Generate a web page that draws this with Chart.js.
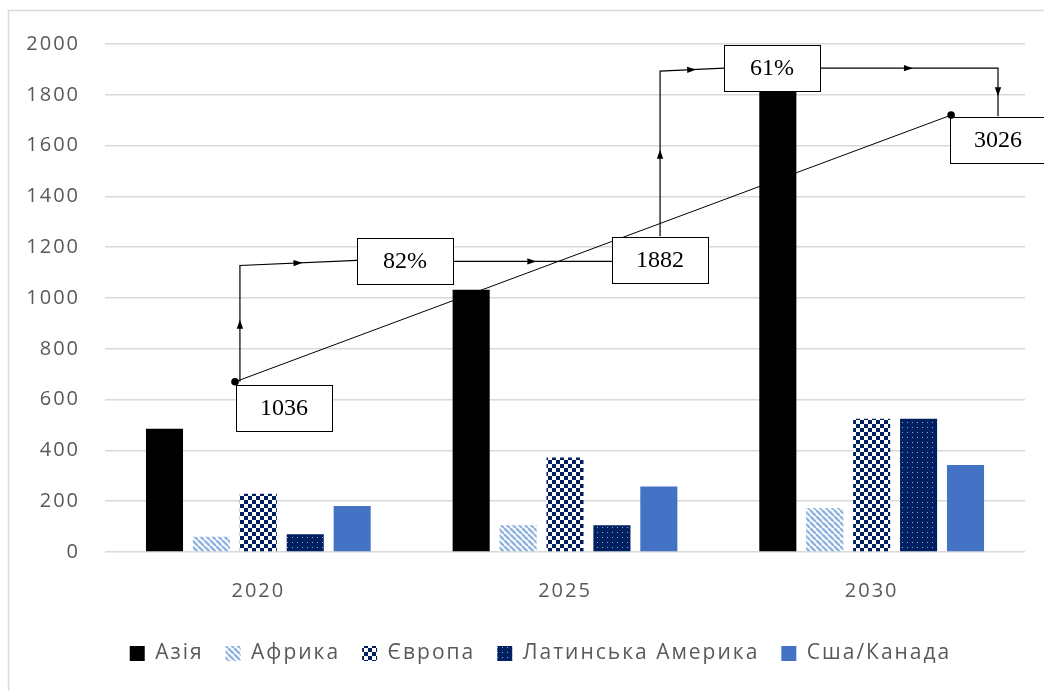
<!DOCTYPE html>
<html>
<head>
<meta charset="utf-8">
<script src="https://cdn.jsdelivr.net/npm/chart.js@4.4.1/dist/chart.umd.min.js"></script>
<style>
  html, body { margin: 0; padding: 0; background: #fff; }
  #wrap { width: 1044px; height: 691px; position: relative; }
</style>
</head>
<body>
<div id="wrap"><canvas id="chart" width="1044" height="691"></canvas></div>
<script>
// categories and series
const years = ['2020', '2025', '2030'];
const seriesNames = ['Азія', 'Африка', 'Європа', 'Латинська Америка', 'Сша/Канада'];
const asia = [485, 1032, 1850];
const africa = [60, 105, 172];
const europe = [229, 372, 525];
const latinAmerica = [70, 105, 525];
const usaCanada = [181, 258, 343];
const yTicks = [0, 200, 400, 600, 800, 1000, 1200, 1400, 1600, 1800, 2000];

// overlay notes, in (category index, value) units
const trendX = [-0.076, 2.259];
const trendY = [670, 1720];
const noteLabels = ['1036', '82%', '1882', '61%', '3026'];
const noteX = [0.085, 0.478, 1.311, 1.675, 2.412];
const noteY = [568, 1146, 1148, 1905, 1623];
const connectors = [
  [[-0.060, 670], [-0.060, 1128], [0.322, 1148]],
  [[0.634, 1144], [1.153, 1144]],
  [[1.310, 1243], [1.310, 1893], [1.519, 1905]],
  [[1.831, 1905], [2.412, 1905], [2.412, 1716]],
];

function makePattern(size, paint) {
  const c = document.createElement('canvas');
  c.width = size; c.height = size;
  const g = c.getContext('2d');
  paint(g, size);
  return g.createPattern(c, 'repeat');
}
const stripes = makePattern(6, (g, s) => {
  g.fillStyle = '#fff'; g.fillRect(0, 0, s, s);
  g.strokeStyle = '#8fb4e0'; g.lineWidth = 2.4;
  for (const o of [-s, 0, s]) { g.beginPath(); g.moveTo(o, 0); g.lineTo(o + s, s); g.stroke(); }
});
const checker = makePattern(8, (g, s) => {
  g.fillStyle = '#fff'; g.fillRect(0, 0, s, s);
  g.fillStyle = '#002060'; g.fillRect(0, 0, 4, 4); g.fillRect(4, 4, 4, 4);
});
const dots = makePattern(5, (g, s) => {
  g.fillStyle = '#002060'; g.fillRect(0, 0, s, s);
  g.fillStyle = '#8ea9db'; g.fillRect(2, 2, 1, 1);
});

const frame = {
  id: 'frame',
  beforeUpdate(chart) { chart.ctx.letterSpacing = '2px'; },
  afterLayout(chart) {
    // the legend sits a little right of centre in the original
    chart.legend.left += 28; chart.legend.right += 28;
  },
  beforeDraw(chart) {
    const ctx = chart.ctx;
    ctx.letterSpacing = '2px';
    ctx.save();
    ctx.strokeStyle = '#d9d9d9'; ctx.lineWidth = 1.5;
    ctx.strokeRect(8.5, 10.5, 1200, 800);
    ctx.restore();
  }
};

const notes = {
  id: 'notes',
  afterDatasetsDraw(chart) {
    const ctx = chart.ctx;
    const xs = chart.scales.xLin, ys = chart.scales.y;
    const px = v => xs.getPixelForValue(v), py = v => ys.getPixelForValue(v);
    ctx.save();
    ctx.letterSpacing = '0px';
    ctx.strokeStyle = '#000'; ctx.fillStyle = '#000';
    // trend line
    ctx.lineWidth = 1;
    ctx.beginPath();
    ctx.moveTo(px(trendX[0]), py(trendY[0]));
    ctx.lineTo(px(trendX[1]), py(trendY[1]));
    ctx.stroke();
    // arrows
    ctx.lineWidth = 1.2;
    connectors.forEach(path => {
      ctx.beginPath();
      path.forEach((p, k) => k ? ctx.lineTo(px(p[0]), py(p[1])) : ctx.moveTo(px(p[0]), py(p[1])));
      ctx.stroke();
      for (let k = 1; k < path.length; k++) {
        const x0 = px(path[k - 1][0]), y0 = py(path[k - 1][1]);
        const x1 = px(path[k][0]), y1 = py(path[k][1]);
        ctx.save();
        ctx.translate((x0 + x1) / 2, (y0 + y1) / 2);
        ctx.rotate(Math.atan2(y1 - y0, x1 - x0));
        ctx.beginPath(); ctx.moveTo(4, 0); ctx.lineTo(-5, -3.2); ctx.lineTo(-5, 3.2); ctx.closePath(); ctx.fill();
        ctx.restore();
      }
    });
    // boxes
    ctx.font = '24px "Liberation Serif", "Times New Roman", serif';
    ctx.textAlign = 'center'; ctx.textBaseline = 'middle';
    ctx.lineWidth = 1;
    noteLabels.forEach((t, k) => {
      const cx = Math.round(px(noteX[k])), cy = Math.round(py(noteY[k]));
      ctx.fillStyle = '#fff'; ctx.fillRect(cx - 48, cy - 23, 96, 46);
      ctx.strokeRect(cx - 48 + 0.5, cy - 23 + 0.5, 96, 46);
      ctx.fillStyle = '#000'; ctx.fillText(t, cx, cy + 1);
    });
    // trend end points
    trendX.forEach((x, i) => {
      ctx.beginPath(); ctx.arc(px(x), py(trendY[i]), 3.8, 0, Math.PI * 2); ctx.fill();
    });
    ctx.restore();
  }
};

const fills = ['#000000', stripes, checker, dots, '#4472c4'];
const values = [asia, africa, europe, latinAmerica, usaCanada];
const datasets = seriesNames.map((name, i) => ({
  label: name, data: values[i], backgroundColor: fills[i], borderWidth: 0,
  categoryPercentage: 0.765, barPercentage: 0.79,
}));

const GRAY = '#595959';
new Chart(document.getElementById('chart'), {
  type: 'bar',
  data: { labels: years, datasets },
  plugins: [frame, notes],
  options: {
    responsive: false, animation: false, devicePixelRatio: 1,
    layout: { padding: { left: 0, right: 19, top: 44, bottom: 17 } },
    scales: {
      x: {
        grid: { display: false }, border: { display: false },
        ticks: { color: GRAY, font: { family: '"Open Sans"', size: 20 }, padding: 19 },
        afterFit: s => { s.height -= 1; },
      },
      xLin: { type: 'linear', display: false, offset: false, min: -0.5, max: 2.5 },
      y: {
        min: 0, max: 2000,
        afterBuildTicks: s => { s.ticks = yTicks.map(v => ({ value: v })); },
        afterFit: s => { s.width = 105; },
        grid: { color: '#d9d9d9', lineWidth: 1.5, drawTicks: false },
        border: { display: false },
        ticks: { color: GRAY, font: { family: '"Open Sans"', size: 20 }, padding: 25,
          callback: v => String(v) },
      },
    },
    plugins: {
      legend: {
        position: 'bottom',
        labels: {
          boxWidth: 15, boxHeight: 15, padding: 22,
          color: GRAY, font: { family: '"Open Sans"', size: 21 },
        },
      },
      tooltip: { enabled: false },
    },
  },
});
</script>
</body>
</html>
